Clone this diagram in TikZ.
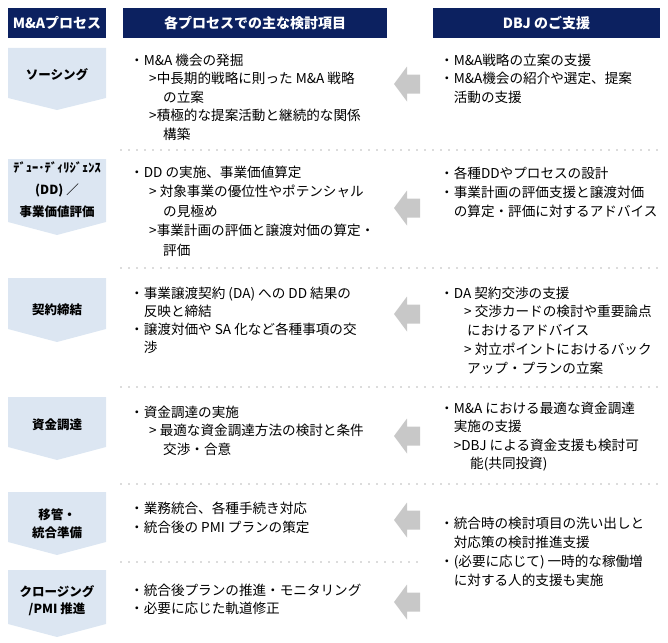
\documentclass[tikz,border=0pt]{standalone}
\usepackage{fontspec}
\setmainfont{Noto Sans CJK JP}
\usepackage{tikz}
\definecolor{dbjnavy}{RGB}{12,33,96}
\definecolor{stepblue}{RGB}{220,230,242}
\definecolor{arrowgray}{RGB}{200,200,200}
\definecolor{dotgray}{RGB}{185,185,185}

\begin{document}
\begin{tikzpicture}[x=1pt,y=-1pt,
    header/.style={fill=dbjnavy,text=white,inner sep=0pt,minimum height=30pt,font=\fontsize{14}{16}\selectfont\bfseries},
    steplabel/.style={align=center,inner sep=0pt,font=\fontsize{12.5}{18}\selectfont\bfseries},
    body/.style={anchor=north west,align=left,inner sep=0pt,font=\fontsize{13.6}{18.6}\selectfont},
    sepline/.style={dotgray,line width=1.6pt,dash pattern=on 0pt off 8pt,line cap=round}]
    \useasboundingbox (0,0) rectangle (668,642);
    \node[header,minimum width=98pt] (hdrproc) at (57,23) {M\&Aプロセス};
    \node[header,minimum width=264pt] (hdritem) at (255,23) {各プロセスでの主な検討項目};
    \node[header,minimum width=227pt] (hdrdbj) at (546.5,23) {DBJ のご支援};
    \fill[stepblue] (8,48) -- (106,48) -- (106,98) -- (57,110) -- (8,98) -- cycle;
    \fill[stepblue] (8,159) -- (106,159) -- (106,222) -- (57,235) -- (8,222) -- cycle;
    \fill[stepblue] (8,278) -- (106,278) -- (106,329) -- (57,342) -- (8,329) -- cycle;
    \fill[stepblue] (8,397) -- (106,397) -- (106,447) -- (57,460) -- (8,447) -- cycle;
    \fill[stepblue] (8,492) -- (106,492) -- (106,542) -- (57,555) -- (8,542) -- cycle;
    \fill[stepblue] (8,570) -- (106,570) -- (106,624) -- (57,637) -- (8,624) -- cycle;
    \node[steplabel] (lblsourcing) at (57,75) {ソーシング};
    \node[steplabel,font=\fontsize{12.5}{22}\selectfont\bfseries] (lbldd) at (57,190) {ﾃﾞｭｰ･ﾃﾞｨﾘｼﾞｪﾝｽ\\(DD) ／\\事業価値評価};
    \node[steplabel] (lblcontract) at (57,310) {契約締結};
    \node[steplabel] (lblfunding) at (57,425) {資金調達};
    \node[steplabel] (lblpmiprep) at (57,524) {移管・\\統合準備};
    \node[steplabel,font=\fontsize{12.5}{17}\selectfont\bfseries] (lblclosing) at (57,600.5) {クロージング\\/PMI 推進};
    \foreach \yd in {150,268,387,484}
        \draw[sepline] (121,\yd) -- (660,\yd);
    \draw[sepline] (121,562) -- (423,562);
    \foreach \yc in {84,208,314,436,520,602}
        \fill[arrowgray] (394,\yc) -- ++(13,-17.5) -- ++(0,8) -- ++(13,0) -- ++(0,19) -- ++(-13,0) -- ++(0,8) -- cycle;
    \node[body] (itemsourcing) at (130,53.5) {・M\&A 機会の発掘\\
        \hspace*{19pt}>中長期的戦略に則った M\&A 戦略\\
        \hspace*{33pt}の立案\\
        \hspace*{19pt}>積極的な提案活動と継続的な関係\\
        \hspace*{33pt}構築};
    \node[body,font=\fontsize{13.6}{19.5}\selectfont] (itemdd) at (130,165.5) {・DD の実施、事業価値算定\\
        \hspace*{19pt}> 対象事業の優位性やポテンシャル\\
        \hspace*{33pt}の見極め\\
        \hspace*{19pt}>事業計画の評価と譲渡対価の算定・\\
        \hspace*{33pt}評価};
    \node[body,font=\fontsize{13.6}{18}\selectfont] (itemcontract) at (130,286.5) {・事業譲渡契約 (DA) への DD 結果の\\
        \hspace*{1em}反映と締結\\
        ・譲渡対価や SA 化など各種事項の交\\
        \hspace*{1em}渉};
    \node[body] (itemfunding) at (130,405.5) {・資金調達の実施\\
        \hspace*{19pt}> 最適な資金調達方法の検討と条件\\
        \hspace*{33pt}交渉・合意};
    \node[body,font=\fontsize{13.6}{19}\selectfont] (itempmiprep) at (130,501.5) {・業務統合、各種手続き対応\\
        ・統合後の PMI プランの策定};
    \node[body,font=\fontsize{13.6}{18}\selectfont] (itemclosing) at (130,583.5) {・統合後プランの推進・モニタリング\\
        ・必要に応じた軌道修正};
    \node[body] (dbjsourcing) at (440,53.5) {・M\&A戦略の立案の支援\\
        ・M\&A機会の紹介や選定、提案\\
        \hspace*{1em}活動の支援};
    \node[body,font=\fontsize{13.6}{19}\selectfont] (dbjdd) at (440,166.5) {・各種DDやプロセスの設計\\
        ・事業計画の評価支援と譲渡対価\\
        \hspace*{1em}の算定・評価に対するアドバイス};
    \node[body,font=\fontsize{13.6}{18.75}\selectfont] (dbjcontract) at (440,286.5) {・DA 契約交渉の支援\\
        \hspace*{24pt}> 交渉カードの検討や重要論点\\
        \hspace*{27pt}におけるアドバイス\\
        \hspace*{24pt}> 対立ポイントにおけるバック\\
        \hspace*{27pt}アップ・プランの立案};
    \node[body] (dbjfunding) at (440,401.5) {・M\&A における最適な資金調達\\
        \hspace*{1em}実施の支援\\
        \hspace*{1em}>DBJ による資金支援も検討可\\
        \hspace*{30pt}能(共同投資)};
    \node[body,font=\fontsize{13.6}{19}\selectfont] (dbjpmi) at (440,516.5) {・統合時の検討項目の洗い出しと\\
        \hspace*{1em}対応策の検討推進支援\\
        ・(必要に応じて) 一時的な稼働増\\
        \hspace*{1em}に対する人的支援も実施};
\end{tikzpicture}
\end{document}
